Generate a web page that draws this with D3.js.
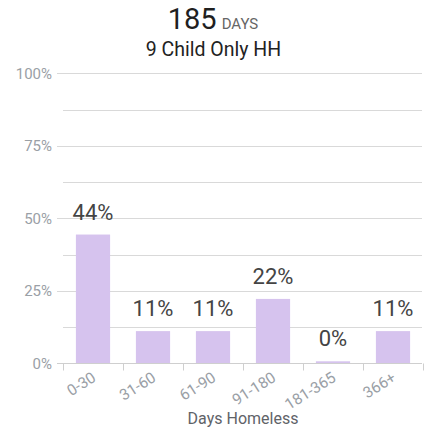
<!DOCTYPE html>
<html><head><meta charset="utf-8">
<script src="https://cdn.jsdelivr.net/npm/d3@7"></script>
<style>
html,body{margin:0;padding:0;background:#fff;}
svg{display:block;font-family:Roboto,"Noto Sans",sans-serif;}
</style></head>
<body>
<svg id="c" width="425" height="431"></svg>
<script>
const categories = ["0-30","31-60","61-90","91-180","181-365","366+"];
const values = [44.4, 11.1, 11.1, 22.2, 0, 11.1];
const valueLabels = ["44%","11%","11%","22%","0%","11%"];
const majorTicks = [0, 25, 50, 75, 100];
const minorTicks = [12.5, 37.5, 62.5, 87.5];
const titleNumber = "185";
const titleUnit = "DAYS";
const subtitle = "9 Child Only HH";
const xTitle = "Days Homeless";

(function () {
const svg = d3.select("#c");
const pLeft = 63, pRight = 423, pTop = 73.3, pBottom = 363.3;

const x = d3.scaleBand().domain(categories).range([pLeft, pRight]).paddingInner(0.43).paddingOuter(0.215);
const y = d3.scaleLinear().domain([0, 100]).range([pBottom, pTop]);

// title
const t = svg.append("text").attr("x", 213).attr("y", 29).attr("text-anchor", "middle");
t.append("tspan").text(titleNumber).style("font-size", "29px").attr("fill", "#1f1f1f");
t.append("tspan").text(titleUnit).style("font-size", "15px").attr("fill", "#666").attr("dx", 5);
svg.append("text").attr("x", 213.5).attr("y", 56).attr("text-anchor", "middle")
  .style("font-size", "19.5px").attr("fill", "#222").text(subtitle);

// minor gridlines
svg.append("g").selectAll("line").data(minorTicks).join("line")
  .attr("x1", pLeft).attr("x2", 422).attr("y1", d => Math.round(y(d)) + 0.5).attr("y2", d => Math.round(y(d)) + 0.5)
  .attr("stroke", "#d9d9d9").attr("stroke-width", 1);
// major gridlines
svg.append("g").selectAll("line").data(majorTicks.filter(d => d > 0)).join("line")
  .attr("x1", 57).attr("x2", 422).attr("y1", d => Math.round(y(d)) + 0.5).attr("y2", d => Math.round(y(d)) + 0.5)
  .attr("stroke", "#d9d9d9").attr("stroke-width", 1);
// y labels
svg.append("g").selectAll("text").data(majorTicks).join("text")
  .attr("x", 52).attr("y", d => y(d)).attr("dy", "0.35em").attr("text-anchor", "end")
  .style("font-size", "15px").attr("fill", "#9aa0a6").text(d => d + "%");

// bars
svg.append("g").selectAll("rect").data(values).join("rect")
  .attr("x", (d, i) => x(categories[i])).attr("width", x.bandwidth())
  .attr("y", d => Math.min(y(d), pBottom - 2)).attr("height", d => Math.max(pBottom - y(d), 2))
  .attr("fill", "#d6c3ee");

// x axis line & ticks
const axY = Math.round(pBottom) + 0.5;
svg.append("line").attr("x1", 57).attr("x2", 422).attr("y1", axY).attr("y2", axY)
  .attr("stroke", "#cfcfcf");
const bounds = categories.map(c => x(c) - x.step() * x.paddingInner() / 2).concat([pRight]);
svg.append("g").selectAll("line").data(bounds).join("line")
  .attr("x1", d => Math.round(d) + 0.5).attr("x2", d => Math.round(d) + 0.5)
  .attr("y1", axY).attr("y2", axY + 7).attr("stroke", "#cfcfcf");

// x labels
svg.append("g").selectAll("text").data(categories).join("text")
  .attr("transform", d => `translate(${x(d) + x.bandwidth() / 2 + 4},${pBottom + 17}) rotate(-32)`)
  .attr("text-anchor", "end").style("font-size", "15.5px").attr("fill", "#9aa0a6").text(d => d);

// value labels
svg.append("g").selectAll("text").data(values).join("text")
  .attr("x", (d, i) => x(categories[i]) + x.bandwidth() / 2)
  .attr("y", d => Math.min(y(d), pBottom - 2) - 15)
  .attr("text-anchor", "middle").style("font-size", "22px").attr("fill", "#444")
  .text((d, i) => valueLabels[i]);

// x title
svg.append("text").attr("x", 243).attr("y", 424).attr("text-anchor", "middle")
  .style("font-size", "16px").attr("fill", "#5f6368").text(xTitle);
})();
</script>
</body></html>
